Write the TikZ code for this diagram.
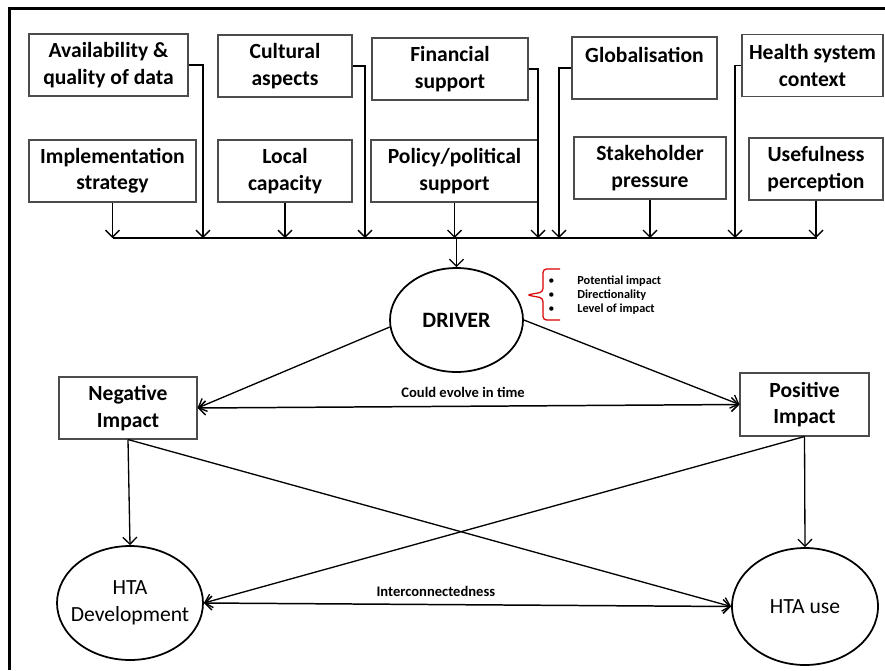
\documentclass[tikz,border=0pt]{standalone}
\usepackage{fontspec}
\setmainfont{Carlito}
\usetikzlibrary{arrows.meta,shapes.geometric}

\begin{document}
\begin{tikzpicture}[x=0.02cm,y=-0.02cm,
  factor/.style={draw=black!70,line width=0.6pt,align=center,inner sep=1pt,minimum height=1.24cm,font=\bfseries\fontsize{12.3}{15}\selectfont},
  oval/.style={ellipse,draw,line width=1pt,align=center,inner sep=0pt,font=\fontsize{12.3}{15.4}\selectfont},
  link/.style={line width=0.75pt,-{Straight Barb[length=4pt,width=8pt]}},
  twoway/.style={line width=0.85pt,{Straight Barb[length=4pt,width=8pt]}-{Straight Barb[length=4pt,width=8pt]}},
  tag/.style={font=\bfseries\fontsize{8.3}{9}\selectfont}]
\useasboundingbox (0,0) rectangle (885,670);
\draw[line width=1.2pt] (9.5,670) -- (9.5,8.5) -- (885,8.5);

% factors
\node[factor,minimum width=3.18cm] at (108.5,65) (avail) {Availability \&\\quality of data};
\node[factor,minimum width=2.68cm] at (285,66) (cult) {Cultural\\aspects};
\node[factor,minimum width=3.12cm] at (450,69) (fin) {Financial\\support};
\node[factor,minimum width=2.9cm] at (644.5,68) (glob) {Globalisation\\\mbox{}};
\node[factor,minimum width=2.82cm] at (812.5,65.5) (health) {Health system\\context};
\node[factor,minimum width=3.34cm] at (112.5,171) (impl) {Implementation\\strategy};
\node[factor,minimum width=2.68cm] at (285,171) (local) {Local\\capacity};
\node[factor,minimum width=3.34cm] at (454.5,171) (policy) {Policy/political\\support};
\node[factor,minimum width=3.04cm] at (650,168) (stake) {Stakeholder\\pressure};
\node[factor,minimum width=2.68cm] at (816,169) (useful) {Usefulness\\perception};

% bus
\coordinate (busL) at (113,238);
\coordinate (busR) at (817,238);
\coordinate (b2) at (203,238);
\coordinate (b4) at (365,238);
\coordinate (b6) at (538,238);
\coordinate (b7) at (559,238);
\coordinate (b9) at (735,238);
\coordinate (hub) at (456.5,238);
\draw[line width=0.75pt] (busL) -- (busR);

\draw[link] (impl) -- (impl |- busL);
\draw[link] (avail.east) -| (b2);
\draw[link] (local) -- (local |- busL);
\draw[link] (cult.east) -| (b4);
\draw[link] (policy) -- (policy |- busL);
\draw[link] (fin.east) -| (b6);
\draw[link] (glob.west) -| (b7);
\draw[link] (stake) -- (stake |- busL);
\draw[link] (health.west) -| (b9);
\draw[link] (useful) -- (useful |- busL);

% driver
\node[oval,minimum width=2.66cm,minimum height=2.08cm,font=\bfseries\fontsize{12.5}{15}\selectfont] at (456.5,320) (driver) {DRIVER};
\draw[link] (hub) -- (driver);
\draw[red!85!black,line width=0.7pt,rounded corners=2pt] (560,269) -- (543,269) -- (543,292) -- (527,295) -- (543,298) -- (543,320) -- (560,320);
\node[anchor=west,inner sep=0pt,font=\bfseries\fontsize{7}{8}\selectfont] at (548,296) (crit) {\begin{tabular}{@{}l@{\hspace{13pt}}l@{}}{\mdseries\textbullet}&Potential impact\\{\mdseries\textbullet}&Directionality\\{\mdseries\textbullet}&Level of impact\end{tabular}};

% impacts
\node[factor,minimum width=2.76cm] at (128,408) (neg) {Negative\\Impact};
\node[factor,minimum width=2.58cm,minimum height=1.26cm] at (804.5,404.5) (pos) {Positive\\Impact};
\draw[link] (driver.186) -- (neg.east);
\draw[link] (driver.east) -- (pos.west);
\draw[twoway] (neg.east) -- node[tag,above=1pt,pos=0.49] (evolve) {Could evolve in time} (pos.west);

% HTA
\node[oval,minimum width=2.92cm,minimum height=2.28cm] at (130,603) (dev) {\makebox[0pt]{\begin{tabular}{@{}c@{}}HTA\\Development\end{tabular}}};
\node[oval,minimum width=2.92cm,minimum height=2.34cm] at (805,606.5) (use) {HTA use};
\draw[link] (neg.south) -- (dev.north);
\draw[link] (neg.south) -- (use.west);
\draw[link] (pos.south) -- (dev.east);
\draw[link] (pos.south) -- (use.north);
\draw[twoway] (dev.east) -- node[tag,above=1pt,pos=0.44] (inter) {Interconnectedness} (use.west);
\end{tikzpicture}
\end{document}
